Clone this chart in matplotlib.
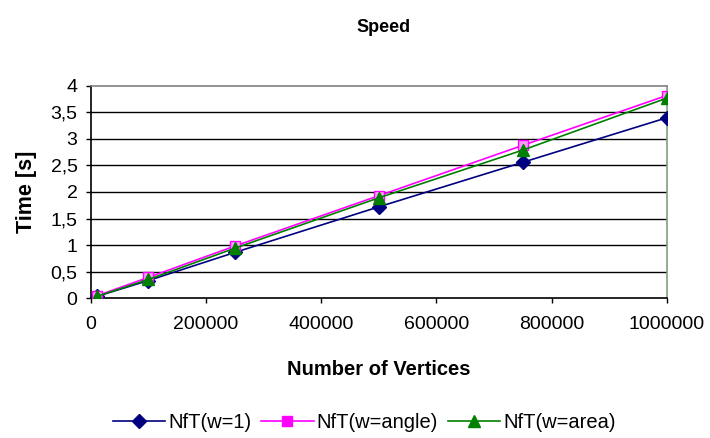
import numpy as np
import matplotlib.pyplot as plt

plt.rcParams['font.family'] = ['Liberation Sans', 'DejaVu Sans']

vertices = [10000, 100000, 250000, 500000, 750000, 1000000]
t_w1 = [0.03, 0.33, 0.86, 1.72, 2.56, 3.40]
t_angle = [0.04, 0.39, 0.98, 1.93, 2.88, 3.82]
t_area = [0.03, 0.35, 0.94, 1.89, 2.79, 3.77]

fig = plt.figure(figsize=(7.1, 4.38), dpi=100)
ax = fig.add_axes([0.128, 0.3196, 0.811, 0.4841])

# horizontal grid lines
for yv in np.arange(0.5, 4.0, 0.5):
    ax.axhline(yv, color='black', lw=1.0, zorder=1)

ax.plot(vertices, t_w1, color='#000080', marker='D', ms=7, lw=1.2,
        label='NfT(w=1)', zorder=3)
ax.plot(vertices, t_angle, color='#ff00ff', marker='s', ms=7, lw=1.2,
        markerfacecolor='#ff99ff', markeredgecolor='#ff00ff',
        label='NfT(w=angle)', zorder=3)
ax.plot(vertices, t_area, color='#008000', marker='^', ms=8, lw=1.2,
        label='NfT(w=area)', zorder=4)

ax.set_xlim(0, 1000000)
ax.set_ylim(0, 4)
ax.set_xticks(np.arange(0, 1000001, 200000))
ax.set_xticklabels([str(v) for v in range(0, 1000001, 200000)])
yt = np.arange(0, 4.01, 0.5)
ax.set_yticks(yt)
ax.set_yticklabels([('%g' % v).replace('.', ',') for v in yt])
ax.tick_params(axis='both', labelsize=14, direction='out', length=3.6, width=1, colors='black')
ax.tick_params(axis='x', pad=9)
ax.tick_params(axis='y', pad=6)

for s in ['left', 'bottom']:
    ax.spines[s].set_color('black')
    ax.spines[s].set_linewidth(1.2)
ax.spines['top'].set_color('#808080')
ax.spines['right'].set_color('#7f9f7f')
ax.spines['top'].set_linewidth(1.2)
ax.spines['right'].set_linewidth(1.2)

ax.set_xlabel('Number of Vertices', fontsize=14.5, fontweight='bold', labelpad=20)
ax.set_ylabel('Time [s]', fontsize=15.5, fontweight='bold', labelpad=10)
fig.text(0.54, 0.938, 'Speed', ha='center', va='center', fontsize=13, fontweight='bold',
         family=['Liberation Sans Narrow', 'Liberation Sans'])

leg = fig.legend(loc='center', bbox_to_anchor=(0.513, 0.036), ncol=3, frameon=False,
                 fontsize=14.5, handlelength=2.6, handletextpad=0.15, columnspacing=0.5)
leg.legend_handles[1].set_markerfacecolor('#ff00ff')

fig.savefig('out.png', dpi=100)
